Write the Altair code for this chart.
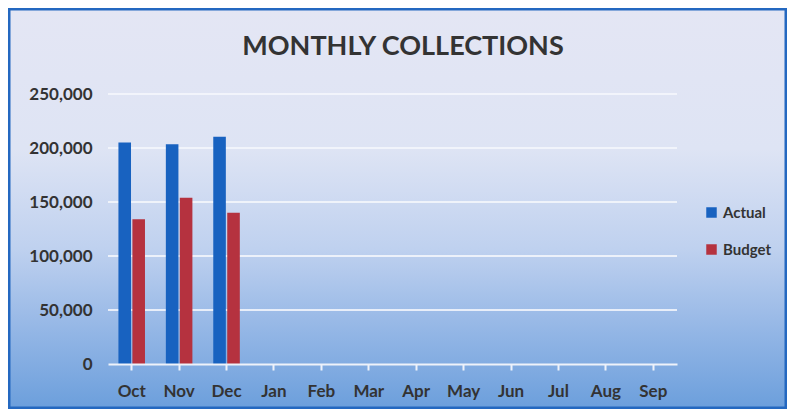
import altair as alt
import pandas as pd

title_text = "MONTHLY COLLECTIONS"
months = ["Oct", "Nov", "Dec", "Jan", "Feb", "Mar", "Apr", "May", "Jun", "Jul", "Aug", "Sep"]
data_months = ["Oct", "Nov", "Dec"]
actual = [205000, 203500, 210500]
budget = [134000, 154000, 140000]
series = ["Actual", "Budget"]
y_ticks = [0, 50000, 100000, 150000, 200000, 250000]
grid_values = [50000, 100000, 150000, 200000, 250000]

rows = []
for m, a, b in zip(data_months, actual, budget):
    rows.append({"Month": m, "Series": "Actual", "Value": a})
    rows.append({"Month": m, "Series": "Budget", "Value": b})
df = pd.DataFrame(rows)

W, H = 569, 270
PAD = {"left": 100, "top": 86, "right": 110, "bottom": 45}
FONT = "Lato"
TXT = "#333333"

yscale = alt.Scale(domain=[0, 250000], nice=False)
yaxis = alt.Axis(
    title=None, values=y_ticks, labelExpr="format(datum.value, ',d')",
    labelFont=FONT, labelFontWeight="bold", labelFontSize=17, labelColor=TXT,
    labelPadding=16, domain=False, ticks=False, grid=False, zindex=1,
)

bg = alt.Chart(pd.DataFrame({"a": [0]})).mark_rect(
    fill=alt.Gradient(
        gradient="linear",
        stops=[
            alt.GradientStop(color="#e4e6f4", offset=0),
            alt.GradientStop(color="#dee4f4", offset=0.35),
            alt.GradientStop(color="#bfd1ef", offset=0.6),
            alt.GradientStop(color="#95b7e6", offset=0.8),
            alt.GradientStop(color="#6c9fdc", offset=1),
        ],
        x1=0, x2=0, y1=0, y2=1,
    ),
    stroke="#2468c0",
    strokeWidth=3,
).encode(
    x=alt.value(-99), x2=alt.value(W + PAD["right"] - 1),
    y=alt.value(-85), y2=alt.value(H + PAD["bottom"] - 1),
)

title = alt.Chart(pd.DataFrame({"t": [title_text]})).mark_text(
    font=FONT, fontSize=27, fontWeight="bold", color=TXT,
    align="center", baseline="middle",
).encode(text="t:N", x=alt.value(295), y=alt.value(-47))

grid = alt.Chart(pd.DataFrame({"v": grid_values})).mark_rule(
    color="#f4f7fc", strokeWidth=2, opacity=0.85
).encode(y=alt.Y("v:Q", scale=yscale, axis=yaxis))

bars = alt.Chart(df).mark_bar().encode(
    x=alt.X(
        "Month:N",
        sort=months,
        scale=alt.Scale(domain=months, paddingInner=0.44, paddingOuter=0.22),
        axis=alt.Axis(
            title=None, labelAngle=0, labelFont=FONT, labelFontWeight="bold",
            labelFontSize=17, labelColor=TXT, labelPadding=13,
            domainColor="#eef2fa", domainWidth=2, tickColor="#eef2fa",
            tickWidth=2, tickSize=6, grid=False, zindex=1,
        ),
    ),
    xOffset=alt.XOffset("Series:N", sort=series, scale=alt.Scale(paddingInner=0.1)),
    y=alt.Y("Value:Q", scale=yscale, axis=yaxis),
    color=alt.Color(
        "Series:N",
        sort=series,
        scale=alt.Scale(domain=series, range=["#1862c0", "#b5323f"]),
        legend=alt.Legend(
            title=None, orient="none", legendX=596, legendY=111,
            symbolType="square", symbolSize=110, symbolStrokeWidth=0,
            labelFont=FONT, labelFontWeight="bold", labelFontSize=15,
            labelColor=TXT, rowPadding=21, padding=0,
        ),
    ),
)

chart = alt.layer(bg, title, grid, bars).properties(
    width=W,
    height=H,
    padding=PAD,
    autosize=alt.AutoSizeParams(type="none"),
).configure_view(stroke=None)

chart.save("out.html", embed_options={"renderer": "svg", "actions": False})
